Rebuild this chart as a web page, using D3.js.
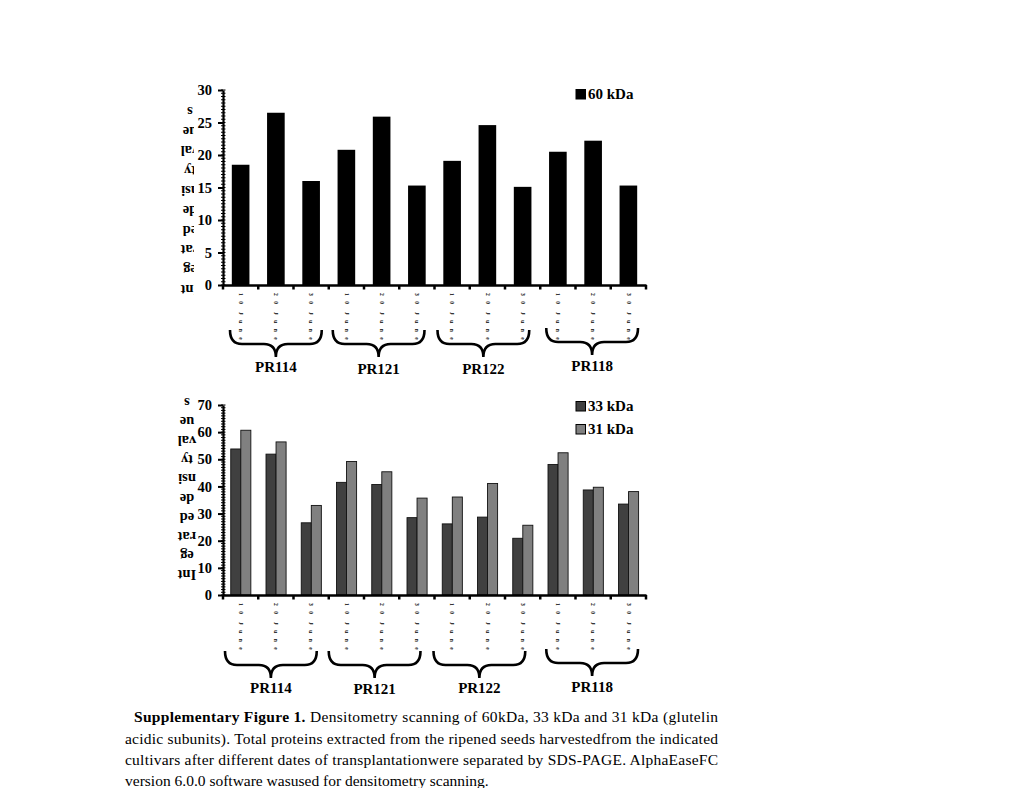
<!DOCTYPE html>
<html><head><meta charset="utf-8">
<script src="https://cdn.jsdelivr.net/npm/d3@7"></script>
<style>body{margin:0;background:#fff}svg{display:block}</style>
</head><body>
<script>
const cultivars = ["PR114","PR121","PR122","PR118"];
const dates = ["10 June","20 June","30 June"];
const values60 = [18.5,26.5,16.0,20.8,25.9,15.3,19.1,24.6,15.1,20.5,22.2,15.3];
const values33 = [53.8,51.9,26.6,41.5,40.7,28.5,26.2,28.7,20.9,48.1,38.7,33.5];
const values31 = [60.7,56.4,33.0,49.2,45.4,35.7,36.1,41.1,25.7,52.4,39.7,38.1];
const topTicks = [0,5,10,15,20,25,30];
const bottomTicks = [0,10,20,30,40,50,60,70];
const seriesTop = ["60 kDa"];
const seriesBottom = ["33 kDa","31 kDa"];
const titleLines = ["Int","eg","rat","ed","de","nsi","ty","val","ue","s"];
const captionBold = "Supplementary Figure 1.";
const captionLines = [
  " Densitometry scanning of 60kDa, 33 kDa and 31 kDa (glutelin",
  "acidic subunits). Total proteins extracted from the ripened seeds harvestedfrom the indicated",
  "cultivars after different dates of transplantationwere separated by SDS-PAGE. AlphaEaseFC",
  "version 6.0.0 software wasused for densitometry scanning."
];

const W = 1020, H = 788;
const serif = "Liberation Serif";
const svg = d3.select("body").append("svg").attr("width", W).attr("height", H);

const cats = [];
cultivars.forEach(c => dates.forEach(d => cats.push(c + "|" + d)));

function drawPanel(opts) {
  const g = svg.append("g");
  const x = d3.scaleBand().domain(cats).range([223, 646]).paddingInner(0).paddingOuter(0);
  const y = d3.scaleLinear().domain([0, opts.max]).range([opts.y0, opts.y1]);

  // y title (rotated 180, stacked bottom to top)
  const tg = g.append("g");
  if (opts.clip) {
    const id = "clip" + opts.max;
    svg.append("clipPath").attr("id", id).append("rect")
      .attr("x", 150).attr("y", opts.y1 - 30).attr("width", opts.clip - 150).attr("height", 260);
    tg.attr("clip-path", `url(#${id})`);
  }
  titleLines.forEach((t, i) => {
    const cy = opts.titleBottom - i * opts.titleStep;
    tg.append("text").attr("transform", `translate(${opts.titleX},${cy}) rotate(180)`)
      .attr("text-anchor", "middle").attr("dy", "0.35em")
      .attr("font-family", serif).attr("font-weight", "bold").attr("font-size", 14.5)
      .attr("fill", "#000").text(t);
  });

  // bars
  if (opts.series.length === 1) {
    g.selectAll("rect.bar").data(opts.data[0]).enter().append("rect")
      .attr("x", (d, i) => x(cats[i]) + x.bandwidth() * 0.25)
      .attr("width", x.bandwidth() * 0.5)
      .attr("y", d => y(d)).attr("height", d => y(0) - y(d))
      .attr("fill", opts.colors[0]);
  } else {
    const x1 = d3.scaleBand().domain(opts.series).range([x.bandwidth() * 0.22, x.bandwidth() * 0.79]);
    opts.series.forEach((s, si) => {
      g.selectAll("rect.s" + si).data(opts.data[si]).enter().append("rect")
        .attr("x", (d, i) => x(cats[i]) + x1(s))
        .attr("width", x1.bandwidth())
        .attr("y", d => y(d)).attr("height", d => y(0) - y(d))
        .attr("fill", opts.colors[si]).attr("stroke", "#111").attr("stroke-width", 0.9);
    });
  }

  // y axis minor ticks
  const minor = d3.range(0, opts.max + 1e-9, opts.minorStep);
  g.selectAll("line.minor").data(minor).enter().append("line")
    .attr("x1", 221).attr("x2", 225.5).attr("y1", d => y(d)).attr("y2", d => y(d))
    .attr("stroke", "#000").attr("stroke-width", 1);
  const yAxis = d3.axisLeft(y).tickValues(opts.ticks).tickSize(5).tickPadding(6).tickSizeOuter(0);
  const ya = g.append("g").attr("transform", "translate(223,0)").call(yAxis);
  ya.select(".domain").attr("stroke-width", 2.2);
  ya.selectAll(".tick line").attr("stroke-width", 2);
  ya.selectAll(".tick text").attr("font-family", serif).attr("font-weight", "bold")
    .attr("font-size", 14.5).attr("fill", "#000");

  // x axis
  const xa = g.append("g").attr("transform", `translate(0,${opts.y0})`)
    .call(d3.axisBottom(x).tickSize(0).tickFormat(""));
  xa.select(".domain").attr("stroke-width", 2.4);
  const bounds = cats.map(c => x(c)).concat([646]);
  g.selectAll("line.xt").data(bounds).enter().append("line")
    .attr("x1", d => d).attr("x2", d => d).attr("y1", opts.y0).attr("y2", opts.y0 + 4.5)
    .attr("stroke", "#000").attr("stroke-width", 2.5);

  // x tick labels (tiny rotated dates)
  g.selectAll("text.xl").data(cats).enter().append("text")
    .attr("transform", c => `translate(${x(c) + x.bandwidth() / 2 - 1.8},${opts.y0 + 8}) rotate(90)`)
    .attr("font-family", serif).attr("font-size", 5.5).attr("font-weight", "bold")
    .attr("letter-spacing", 5.4).attr("word-spacing", -4).attr("fill", "#000")
    .text(c => c.split("|")[1]);

  // braces and cultivar labels
  cultivars.forEach((cv, ci) => {
    const xs = x(cv + "|" + dates[0]) + 7 + opts.braceShift[ci];
    const xe = x(cv + "|" + dates[2]) + x.bandwidth() - 7 + opts.braceShift[ci];
    const xm = (xs + xe) / 2;
    const yt = opts.braceTop + opts.braceDy[ci], ym = yt + 14, yp = yt + 27;
    const r = 12;
    const p = `M${xs},${yt} Q${xs},${ym} ${xs + r},${ym} L${xm - r},${ym} Q${xm},${ym} ${xm},${yp} Q${xm},${ym} ${xm + r},${ym} L${xe - r},${ym} Q${xe},${ym} ${xe},${yt}`;
    g.append("path").attr("d", p).attr("fill", "none").attr("stroke", "#000").attr("stroke-width", 2.6);
    g.append("text").attr("x", xm).attr("y", opts.labelY + opts.labelDy[ci])
      .attr("text-anchor", "middle").attr("font-family", serif).attr("font-weight", "bold")
      .attr("font-size", 15).attr("fill", "#000").text(cv);
  });

  // legend
  opts.series.forEach((s, si) => {
    const ly = opts.legendY + si * 23;
    g.append("rect").attr("x", 576).attr("y", ly - 9.5).attr("width", 9.5).attr("height", 9.5)
      .attr("fill", opts.colors[si]).attr("stroke", "#000").attr("stroke-width", 1);
    g.append("text").attr("x", 588).attr("y", ly).attr("font-family", serif)
      .attr("font-weight", "bold").attr("font-size", 15).attr("fill", "#000").text(s);
  });
}

drawPanel({
  max: 30, y0: 285, y1: 90, ticks: topTicks, minorStep: 0.5,
  series: seriesTop, data: [values60], colors: ["#000"],
  braceTop: 330, braceDy: [0, 0, 0, -2], braceShift: [0, -3, -4, -1],
  labelY: 373, labelDy: [-1, 1, 1, -2],
  titleX: 190, titleBottom: 290, titleStep: 19.8, clip: 194,
  legendY: 99
});
drawPanel({
  max: 70, y0: 595, y1: 405, ticks: bottomTicks, minorStep: 1,
  series: seriesBottom, data: [values33, values31], colors: ["#404040", "#808080"],
  braceTop: 651, braceDy: [0, 0, 0, -2], braceShift: [-5, -7, -8, -1],
  labelY: 693, labelDy: [0, 1, 0, -1],
  titleX: 187, titleBottom: 575, titleStep: 19.1, clip: null,
  legendY: 411
});

// caption
const cap = svg.append("g").attr("font-family", serif).attr("font-size", 15.5).attr("fill", "#000");
const t1 = cap.append("text").attr("x", 134).attr("y", 722).attr("textLength", 584).attr("lengthAdjust", "spacing");
t1.append("tspan").attr("font-weight", "bold").text(captionBold);
t1.append("tspan").text(captionLines[0]);
const ys = [743.5, 765, 786];
captionLines.slice(1).forEach((l, i) => {
  const t = cap.append("text").attr("x", 125).attr("y", ys[i]).text(l);
  if (i < 2) t.attr("textLength", 593).attr("lengthAdjust", "spacing");
});
</script>
</body></html>
